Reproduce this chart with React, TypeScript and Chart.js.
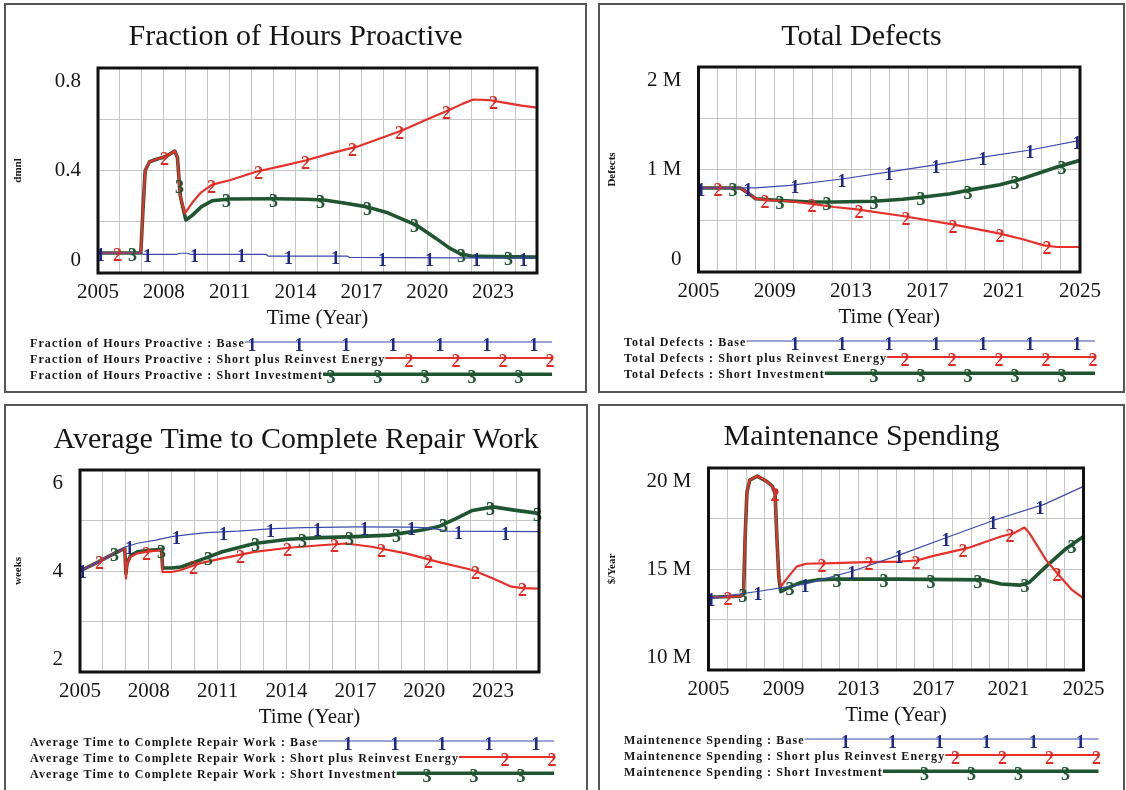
import React, { useEffect, useRef } from 'react';
import { Chart, registerables } from 'chart.js';

Chart.register(...registerables);
Chart.defaults.font.family = '"Liberation Serif", "Times New Roman", serif';
Chart.defaults.color = '#151515';

// ---------------- DATA ----------------
const seriesNames = ['Base', 'Short plus Reinvest Energy', 'Short Investment'];

// Panel 1: Fraction of Hours Proactive (dmnl)
const fhpBaseYears = [2005, 2006.95, 2007.05, 2008.6, 2008.7, 2009.1, 2009.2, 2012.65, 2012.75, 2016.35, 2016.45, 2021.5, 2025];
const fhpBase = [0.078, 0.078, 0.073, 0.073, 0.077, 0.077, 0.073, 0.073, 0.066, 0.066, 0.061, 0.059, 0.058];
const fhpReinvestYears = [2005, 2006.95, 2007.05, 2007.15, 2007.35, 2007.7, 2008.1, 2008.5, 2008.62, 2008.75, 2008.95, 2009.3, 2009.7, 2010.2, 2011, 2012.2, 2013.5, 2014.5, 2015.5, 2016.8, 2018, 2018.9, 2020, 2021, 2021.6, 2022.1, 2022.8, 2023.5, 2024.3, 2025];
const fhpReinvest = [0.078, 0.078, 0.25, 0.4, 0.434, 0.445, 0.455, 0.476, 0.45, 0.3, 0.232, 0.275, 0.315, 0.345, 0.362, 0.395, 0.42, 0.44, 0.465, 0.493, 0.53, 0.558, 0.6, 0.636, 0.66, 0.677, 0.675, 0.665, 0.653, 0.645];
const fhpShortYears = [2005, 2006.95, 2007.05, 2007.15, 2007.35, 2007.7, 2008.1, 2008.5, 2008.62, 2008.75, 2009.0, 2009.3, 2009.7, 2010.2, 2011, 2013, 2014.5, 2015.3, 2016.2, 2017.2, 2018.2, 2019.5, 2020.4, 2021, 2021.5, 2022, 2023, 2025];
const fhpShort = [0.078, 0.078, 0.25, 0.4, 0.434, 0.445, 0.455, 0.476, 0.45, 0.3, 0.207, 0.225, 0.258, 0.282, 0.289, 0.29, 0.288, 0.285, 0.273, 0.259, 0.235, 0.187, 0.135, 0.098, 0.075, 0.066, 0.064, 0.062];

// Panel 2: Total Defects (millions)
const tdBaseYears = [2005, 2008, 2009.8, 2012.6, 2015, 2017.5, 2019.9, 2022.4, 2025];
const tdBase = [0.82, 0.82, 0.845, 0.91, 0.976, 1.047, 1.12, 1.19, 1.285];
const tdReinvestYears = [2005, 2007.2, 2007.6, 2008, 2008.6, 2009.8, 2010.85, 2012.1, 2013.3, 2015.7, 2018.4, 2020.8, 2022, 2023.1, 2023.8, 2025];
const tdReinvest = [0.82, 0.82, 0.77, 0.715, 0.7, 0.69, 0.667, 0.634, 0.611, 0.546, 0.462, 0.374, 0.319, 0.26, 0.244, 0.244];
const tdShortYears = [2005, 2007.2, 2007.6, 2008, 2009.1, 2010.85, 2012.1, 2014.2, 2015.7, 2016.8, 2018.2, 2019.4, 2020.8, 2021.7, 2022.9, 2023.8, 2025];
const tdShort = [0.82, 0.82, 0.77, 0.715, 0.7, 0.683, 0.683, 0.69, 0.709, 0.732, 0.764, 0.806, 0.852, 0.894, 0.969, 1.024, 1.09];

// Panel 3: Average Time to Complete Repair Work (weeks)
const atBaseYears = [2005, 2005.8, 2006.5, 2007, 2007.5, 2008.3, 2009, 2009.7, 2010.5, 2011.9, 2013.4, 2014.8, 2017, 2019.5, 2020.3, 2021, 2025];
const atBase = [4.0, 4.18, 4.35, 4.48, 4.55, 4.61, 4.68, 4.72, 4.76, 4.79, 4.84, 4.86, 4.875, 4.87, 4.85, 4.79, 4.78];
const atReinvestYears = [2005, 2005.8, 2006.5, 2006.95, 2007.0, 2007.05, 2007.2, 2007.5, 2008.0, 2008.55, 2008.6, 2009.0, 2009.4, 2010.2, 2011.2, 2012.6, 2014.1, 2015.5, 2016.6, 2017.7, 2019.2, 2020.6, 2022.1, 2023.0, 2023.8, 2024.3, 2025];
const atReinvest = [4.0, 4.18, 4.35, 4.45, 3.85, 4.15, 4.28, 4.35, 4.39, 4.41, 3.98, 3.98, 4.02, 4.15, 4.25, 4.38, 4.46, 4.51, 4.545, 4.48, 4.35, 4.18, 4.02, 3.85, 3.69, 3.66, 3.65];
const atShortYears = [2005, 2005.8, 2006.5, 2006.95, 2007.0, 2007.05, 2007.2, 2007.5, 2008.0, 2008.55, 2008.6, 2009.0, 2009.4, 2010.2, 2011.2, 2012.6, 2014.1, 2015.5, 2017, 2018.5, 2019.9, 2020.6, 2021.4, 2022.1, 2023.0, 2024.0, 2025];
const atShort = [4.0, 4.18, 4.35, 4.45, 3.95, 4.15, 4.3, 4.38, 4.41, 4.43, 4.06, 4.06, 4.08, 4.21, 4.38, 4.545, 4.63, 4.66, 4.68, 4.71, 4.81, 4.875, 5.04, 5.2, 5.27, 5.2, 5.14];

// Panel 4: Maintenance Spending (millions $/Year)
const msBaseYears = [2005, 2007.7, 2010.2, 2012.7, 2015.2, 2017.7, 2020.3, 2022.9, 2025];
const msBase = [13.55, 13.9, 14.26, 14.9, 15.7, 16.56, 17.44, 18.2, 19.09];
const msReinvestYears = [2005, 2006.7, 2006.87, 2006.95, 2007.05, 2007.2, 2007.6, 2008.1, 2008.4, 2008.55, 2008.65, 2008.75, 2008.85, 2009.2, 2009.7, 2010.2, 2011.7, 2013.4, 2015.2, 2016.1, 2017, 2018.8, 2020.6, 2021.3, 2021.85, 2022.1, 2023, 2023.75, 2024.4, 2025];
const msReinvest = [13.6, 13.65, 13.8, 16.5, 18.8, 19.4, 19.6, 19.34, 19.1, 18.76, 16.5, 14.6, 14.13, 14.55, 15.12, 15.26, 15.29, 15.34, 15.37, 15.42, 15.65, 16.03, 16.61, 16.78, 17.05, 16.8, 15.45, 14.63, 13.95, 13.55];
const msShortYears = [2005, 2006.7, 2006.87, 2006.95, 2007.05, 2007.2, 2007.6, 2008.1, 2008.4, 2008.55, 2008.65, 2008.75, 2008.85, 2009.2, 2009.9, 2010.8, 2011.7, 2015, 2019.7, 2020.6, 2021.6, 2022.1, 2023.2, 2024.1, 2025];
const msShort = [13.6, 13.65, 13.8, 16.5, 18.8, 19.4, 19.6, 19.34, 19.1, 18.76, 16.5, 14.6, 13.88, 14.05, 14.33, 14.46, 14.5, 14.5, 14.46, 14.26, 14.2, 14.33, 15.29, 16.03, 16.61];

// Tick labels
const xLabels3 = [2005, 2008, 2011, 2014, 2017, 2020, 2023];
const xLabels4 = [2005, 2009, 2013, 2017, 2021, 2025];
const fhpYLabels = [0, 0.4, 0.8];
const tdYLabels = [0, 1, 2];
const atYLabels = [2, 4, 6];
const msYLabels = [10, 15, 20];

// ---------------- STYLE ----------------
const lineColors = ['#3a4ab0', '#e8302a', '#1f5631'];
const digitColors = ['#1d2a8c', '#e02a24', '#1f5631'];
const lineWidths = [1.2, 2.2, 3.6];
const markOffsets = [2.5, 19.5, 34.5];
const legendOffsets = [18, 2, 33];
const MARK_STEP = 47;
const FONT = '"Liberation Serif", "Times New Roman", serif';

type Series = { years: number[]; values: number[] };
type PanelCfg = {
  title: string;
  legendName: string;
  yTitle: string;
  box: { left: number; top: number; width: number; height: number };
  area: { left: number; top: number; right: number; bottom: number };
  titleY: number;
  yMin: number;
  yMax: number;
  yStep: number;
  yLabels: number[];
  yFmt: (v: number) => string;
  xLabels: number[];
  series: Series[];
};

const panels: PanelCfg[] = [
  {
    title: 'Fraction of Hours Proactive',
    legendName: 'Fraction of Hours Proactive',
    yTitle: 'dmnl',
    box: { left: 4, top: 3, width: 583, height: 390 },
    area: { left: 98, top: 68, right: 537, bottom: 273 },
    titleY: 37.5,
    yMin: 0, yMax: 0.8, yStep: 0.2, yLabels: fhpYLabels, yFmt: (v) => String(v),
    xLabels: xLabels3,
    series: [
      { years: fhpBaseYears, values: fhpBase },
      { years: fhpReinvestYears, values: fhpReinvest },
      { years: fhpShortYears, values: fhpShort },
    ],
  },
  {
    title: 'Total Defects',
    legendName: 'Total Defects',
    yTitle: 'Defects',
    box: { left: 598, top: 3, width: 527, height: 390 },
    area: { left: 698.5, top: 67, right: 1080, bottom: 272 },
    titleY: 37.5,
    yMin: 0, yMax: 2, yStep: 0.5, yLabels: tdYLabels, yFmt: (v) => (v === 0 ? '0' : `${v} M`),
    xLabels: xLabels4,
    series: [
      { years: tdBaseYears, values: tdBase },
      { years: tdReinvestYears, values: tdReinvest },
      { years: tdShortYears, values: tdShort },
    ],
  },
  {
    title: 'Average Time to Complete Repair Work',
    legendName: 'Average Time to Complete Repair Work',
    yTitle: 'weeks',
    box: { left: 4, top: 404, width: 584, height: 396 },
    area: { left: 80, top: 470, right: 539, bottom: 672 },
    titleY: 440.5,
    yMin: 2, yMax: 6, yStep: 1, yLabels: atYLabels, yFmt: (v) => String(v),
    xLabels: xLabels3,
    series: [
      { years: atBaseYears, values: atBase },
      { years: atReinvestYears, values: atReinvest },
      { years: atShortYears, values: atShort },
    ],
  },
  {
    title: 'Maintenance Spending',
    legendName: 'Maintenence Spending',
    yTitle: '$/Year',
    box: { left: 598, top: 404, width: 527, height: 396 },
    area: { left: 708.5, top: 468, right: 1083.5, bottom: 670 },
    titleY: 437.5,
    yMin: 10, yMax: 20, yStep: 2.5, yLabels: msYLabels, yFmt: (v) => `${v} M`,
    xLabels: xLabels4,
    series: [
      { years: msBaseYears, values: msBase },
      { years: msReinvestYears, values: msReinvest },
      { years: msShortYears, values: msShort },
    ],
  },
];

function buildConfig(cfg: PanelCfg): any {
  const { box, area } = cfg;
  const ox = box.left + 2;
  const oy = box.top + 2;
  const cw = box.width - 4;
  const ch = box.height - 4;
  const L = area.left - ox;
  const T = area.top - oy;
  const R = area.right - ox;
  const B = area.bottom - oy;
  const TITLE_SIZE = 30;
  const titleLH = TITLE_SIZE * 1.2;
  const tTop = cfg.titleY - oy - titleLH / 2;
  const tBottom = T - tTop - titleLH;
  const XH = 60;

  const datasets = cfg.series.map((s, i) => ({
    label: seriesNames[i],
    data: s.years.map((x, k) => ({ x, y: s.values[k] })),
    borderColor: lineColors[i],
    backgroundColor: lineColors[i],
    borderWidth: lineWidths[i],
    pointRadius: 0,
    pointHoverRadius: 0,
    tension: 0,
    fill: false,
    borderJoinStyle: 'round',
    borderCapStyle: 'round',
  }));

  const decor = {
    id: 'vensimDecor',
    afterDatasetsDraw(chart: any) {
      const { ctx, chartArea: ca } = chart;
      ctx.save();
      ctx.font = `bold 18px ${FONT}`;
      ctx.textAlign = 'center';
      ctx.textBaseline = 'middle';
      for (let i = 0; i < datasets.length; i++) {
        const pts = chart.getDatasetMeta(i).data as any[];
        ctx.fillStyle = digitColors[i];
        for (let px = ca.left + markOffsets[i]; px <= ca.right; px += MARK_STEP) {
          let py: number | null = null;
          for (let j = 0; j < pts.length - 1; j++) {
            const a = pts[j];
            const b = pts[j + 1];
            if (a.x <= px && px <= b.x) {
              py = b.x === a.x ? a.y : a.y + ((px - a.x) / (b.x - a.x)) * (b.y - a.y);
              break;
            }
          }
          if (py !== null) ctx.fillText(String(i + 1), px, py + 3.5);
        }
      }
      ctx.restore();
    },
    afterDraw(chart: any) {
      const { ctx, chartArea: ca } = chart;
      const ys = chart.scales.y;
      ctx.save();
      // plot frame
      ctx.strokeStyle = '#111';
      ctx.lineWidth = 3;
      ctx.strokeRect(ca.left, ca.top, ca.right - ca.left, ca.bottom - ca.top);
      // y tick labels (top/bottom pulled inward as in the original)
      ctx.font = `21px ${FONT}`;
      ctx.fillStyle = '#151515';
      ctx.textAlign = 'right';
      ctx.textBaseline = 'middle';
      for (const v of cfg.yLabels) {
        let py = ys.getPixelForValue(v);
        if (v === cfg.yMax) py += 13;
        else if (v === cfg.yMin) py -= 13;
        ctx.fillText(cfg.yFmt(v), ca.left - 17, py);
      }
      // legend
      const rows = [70.5, 86.5, 102.8];
      const lineEnd = ca.right + 15;
      for (let i = 0; i < datasets.length; i++) {
        const y = ca.bottom + rows[i];
        ctx.font = `bold 12px ${FONT}`;
        (ctx as any).letterSpacing = '1.1px';
        ctx.fillStyle = '#151515';
        ctx.textAlign = 'left';
        ctx.textBaseline = 'middle';
        const text = `${cfg.legendName} : ${seriesNames[i]}`;
        ctx.fillText(text, 24, y);
        const start = 24 + ctx.measureText(text).width;
        (ctx as any).letterSpacing = '0px';
        ctx.strokeStyle = lineColors[i];
        ctx.lineWidth = lineWidths[i];
        ctx.beginPath();
        ctx.moveTo(start, y - 1.5);
        ctx.lineTo(lineEnd, y - 1.5);
        ctx.stroke();
        ctx.font = `bold 18px ${FONT}`;
        ctx.textAlign = 'center';
        ctx.fillStyle = digitColors[i];
        for (let px = lineEnd - legendOffsets[i]; px >= start + 5; px -= MARK_STEP) {
          ctx.fillText(String(i + 1), px, y + 3);
        }
      }
      ctx.restore();
    },
  };

  return {
    type: 'line',
    data: { datasets },
    plugins: [decor],
    options: {
      animation: false,
      responsive: false,
      maintainAspectRatio: false,
      events: [],
      layout: { padding: { left: 0, top: 0, right: 0, bottom: ch - B - XH } },
      plugins: {
        legend: { display: false },
        tooltip: { enabled: false },
        title: {
          display: true,
          text: cfg.title,
          color: '#151515',
          font: { family: FONT, size: TITLE_SIZE, weight: 'normal' },
          padding: { top: tTop, bottom: tBottom },
        },
      },
      scales: {
        x: {
          type: 'linear',
          min: 2005,
          max: 2025,
          afterFit: (s: any) => {
            s.height = XH;
          },
          ticks: {
            stepSize: 1,
            autoSkip: false,
            maxRotation: 0,
            minRotation: 0,
            padding: 6.4,
            color: '#151515',
            font: { family: FONT, size: 21 },
            callback: (v: any) => {
              const r = Math.round(Number(v));
              return cfg.xLabels.includes(r) ? String(r) : '';
            },
          },
          grid: { color: '#c6c6c6', lineWidth: 1, drawTicks: false },
          border: { display: false },
          title: {
            display: true,
            text: 'Time (Year)',
            color: '#151515',
            font: { family: FONT, size: 21 },
            padding: { top: 0, bottom: 2.4 },
          },
        },
        y: {
          type: 'linear',
          min: cfg.yMin,
          max: cfg.yMax,
          afterFit: (s: any) => {
            s.width = L;
          },
          ticks: { stepSize: cfg.yStep, display: false },
          grid: { color: '#c6c6c6', lineWidth: 1, drawTicks: false },
          border: { display: false },
          title: {
            display: true,
            text: cfg.yTitle,
            color: '#151515',
            font: { family: FONT, size: 11, weight: 'bold' },
            padding: { top: 5.5, bottom: 0 },
          },
        },
        // invisible spacer on the right, so the title stays centred on the whole panel
        spacer: {
          type: 'linear',
          position: 'right',
          display: true,
          afterFit: (s: any) => {
            s.width = cw - R;
          },
          ticks: { display: false },
          grid: { display: false, drawTicks: false },
          border: { display: false },
        },
      },
    },
  };
}

function Panel({ cfg }: { cfg: PanelCfg }) {
  const ref = useRef<HTMLCanvasElement>(null);
  useEffect(() => {
    const canvas = ref.current;
    if (!canvas) return;
    const chart = new Chart(canvas, buildConfig(cfg));
    return () => chart.destroy();
  }, [cfg]);
  const { box } = cfg;
  return (
    <div
      style={{
        position: 'absolute',
        left: box.left,
        top: box.top,
        width: box.width,
        height: box.height,
        border: '2px solid #555',
        boxSizing: 'border-box',
        background: '#fff',
      }}
    >
      <canvas
        ref={ref}
        width={box.width - 4}
        height={box.height - 4}
        style={{ display: 'block', width: box.width - 4, height: box.height - 4 }}
      />
    </div>
  );
}

export default function App() {
  return (
    <div
      style={{
        position: 'absolute',
        left: 0,
        top: 0,
        width: 1126,
        height: 790,
        overflow: 'hidden',
        background: '#fff',
      }}
    >
      {panels.map((p) => (
        <Panel key={p.title} cfg={p} />
      ))}
    </div>
  );
}
